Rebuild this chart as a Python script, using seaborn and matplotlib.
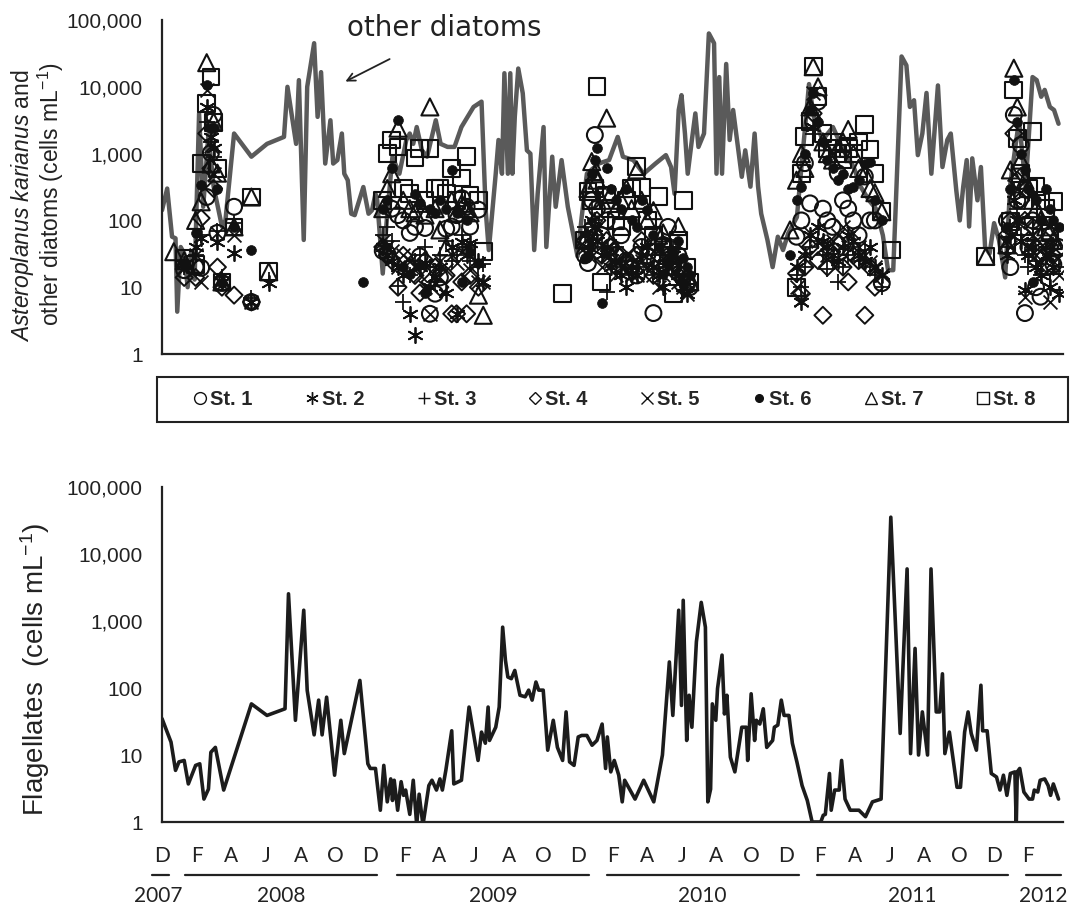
import numpy as np
import pandas as pd
import matplotlib
matplotlib.use("Agg")
import matplotlib.pyplot as plt
import seaborn as sns
from matplotlib.lines import Line2D
from matplotlib.patches import Rectangle
from matplotlib import transforms
from matplotlib.ticker import FixedLocator, FixedFormatter, NullLocator

# ---------------- data ----------------
# time unit: number of 2-month steps since 1 Dec 2007 (0 = Dec 2007, 26 = Apr 2012)
month_labels = ["D", "F", "A", "J", "A", "O", "D", "F", "A", "J", "A", "O", "D",
                "F", "A", "J", "A", "O", "D", "F", "A", "J", "A", "O", "D", "F", ""]
years = ["2007", "2008", "2009", "2010", "2011", "2012"]
stations = ["St. 1", "St. 2", "St. 3", "St. 4", "St. 5", "St. 6", "St. 7", "St. 8"]

# other diatoms (grey line, top panel)
diat_t = [0.00, 0.15, 0.29, 0.39, 0.44, 0.54, 0.64, 0.74, 0.84, 0.94, 1.07, 1.19, 1.34, 1.49, 1.73,
          1.83, 2.08, 2.58, 3.03, 3.52, 3.62, 3.87, 3.95, 4.09, 4.19, 4.39, 4.49, 4.59, 4.71, 4.86,
          4.94, 5.06, 5.19, 5.26, 5.36, 5.46, 5.56, 5.81, 5.96, 6.06, 6.16, 6.21, 6.37, 6.50, 6.65,
          6.85, 7.05, 7.15, 7.25, 7.35, 7.50, 7.65, 7.90, 8.04, 8.24, 8.44, 8.64, 8.99, 9.22, 9.34,
          9.43, 9.63, 9.71, 9.81, 9.88, 9.98, 10.05, 10.11, 10.18, 10.28, 10.41, 10.53, 10.63, 10.74,
          10.84, 11.01, 11.09, 11.26, 11.36, 11.53, 11.71, 11.99, 12.11, 12.26, 12.60, 12.90, 13.15,
          13.30, 13.60, 13.90, 14.24, 14.54, 14.69, 14.79, 14.91, 14.99, 15.09, 15.17, 15.29, 15.39,
          15.48, 15.64, 15.78, 15.93, 16.00, 16.08, 16.16, 16.28, 16.38, 16.48, 16.63, 16.73, 16.83,
          16.98, 17.10, 17.20, 17.29, 17.47, 17.62, 17.77, 17.92, 18.07, 18.32, 18.47, 18.67, 18.81,
          19.06, 19.36, 19.66, 19.96, 20.16, 20.40, 20.60, 20.80, 20.95, 21.10, 21.34, 21.48, 21.58,
          21.70, 21.81, 21.94, 22.06, 22.20, 22.39, 22.52, 22.66, 22.76, 22.92, 23.02, 23.12, 23.22,
          23.29, 23.38, 23.53, 23.63, 23.75, 23.88, 24.01, 24.15, 24.33, 24.48, 24.73, 24.92, 25.12,
          25.24, 25.37, 25.47, 25.62, 25.74, 25.87]
diat_v = [142, 300, 57, 54, 4.3, 40, 32, 10, 34, 13, 4000, 160, 2000, 320, 81,
          100, 2000, 900, 1400, 1780, 10000, 1400, 12600, 51, 10000, 45000, 3550, 16600, 710, 3160,
          710, 800, 2000, 500, 400, 126, 120, 316, 126, 142, 250, 200, 16, 126, 900,
          500, 1600, 2000, 1400, 2500, 1120, 900, 3160, 1400, 1260, 1260, 2500, 5000, 6000, 142,
          36, 500, 1600, 500, 16000, 500, 16000, 500, 3550, 18800, 8000, 1120, 1000, 36,
          250, 2500, 40, 900, 160, 800, 160, 29, 112, 500, 710, 800, 1780,
          900, 800, 500, 710, 950, 630, 250, 4500, 7500, 2000, 500, 1600, 4000,
          1260, 2000, 63000, 45000, 500, 14000, 500, 22000, 1600, 4500, 1120, 450, 1120,
          320, 2000, 320, 126, 51, 20, 57, 36, 64, 112, 800, 11000, 3550,
          1600, 2500, 1120, 630, 320, 200, 150, 60, 18, 18, 28500, 21000, 5000,
          6300, 950, 2000, 8100, 500, 10500, 630, 1600, 2000, 280, 100, 320, 800,
          81, 850, 200, 630, 40, 32, 91, 51, 14, 360, 3160, 320, 14000,
          12600, 7100, 9000, 5000, 4500, 2800]

# flagellates (bottom panel)
flag_t = [0.00, 0.26, 0.39, 0.49, 0.64, 0.76, 0.97, 1.09, 1.21, 1.34, 1.41, 1.54, 1.78, 2.58, 3.03,
          3.55, 3.65, 3.85, 4.09, 4.19, 4.39, 4.52, 4.62, 4.75, 4.98, 5.16, 5.26, 5.71, 5.94, 6.01,
          6.16, 6.30, 6.40, 6.50, 6.60, 6.65, 6.70, 6.80, 6.90, 6.97, 7.03, 7.15, 7.25, 7.35, 7.42,
          7.53, 7.70, 7.79, 7.92, 8.02, 8.09, 8.19, 8.36, 8.42, 8.64, 8.86, 9.12, 9.22, 9.33, 9.41,
          9.45, 9.63, 9.73, 9.83, 9.91, 9.98, 10.08, 10.18, 10.33, 10.48, 10.58, 10.68, 10.79, 10.87,
          11.00, 11.13, 11.29, 11.41, 11.56, 11.66, 11.76, 11.89, 12.01, 12.11, 12.26, 12.41, 12.55,
          12.70, 12.80, 12.85, 12.95, 13.05, 13.18, 13.28, 13.35, 13.65, 13.90, 14.19, 14.44, 14.64,
          14.74, 14.91, 14.99, 15.04, 15.14, 15.21, 15.29, 15.42, 15.56, 15.68, 15.75, 15.83, 15.88,
          15.98, 16.03, 16.16, 16.23, 16.30, 16.40, 16.53, 16.73, 16.86, 16.90, 17.00, 17.10, 17.15,
          17.25, 17.35, 17.45, 17.62, 17.67, 17.77, 17.87, 17.95, 18.09, 18.19, 18.32, 18.47, 18.62,
          18.76, 19.01, 19.08, 19.14, 19.26, 19.31, 19.41, 19.54, 19.61, 19.71, 19.86, 20.11, 20.30,
          20.50, 20.75, 21.03, 21.30, 21.50, 21.60, 21.73, 21.83, 21.94, 22.09, 22.19, 22.34, 22.44,
          22.52, 22.59, 22.72, 22.94, 23.04, 23.16, 23.26, 23.35, 23.50, 23.63, 23.68, 23.81, 23.93,
          24.08, 24.18, 24.28, 24.38, 24.48, 24.61, 24.65, 24.68, 24.75, 24.87, 25.02, 25.12, 25.17,
          25.27, 25.34, 25.47, 25.57, 25.64, 25.72, 25.87]
flag_v = [35, 15.6, 5.9, 7.9, 8.3, 3.7, 7, 7.4, 2.2, 3.1, 11, 13, 3, 58, 39,
          49, 2550, 33, 1450, 92, 20, 66, 20, 73, 5, 33, 10.5, 130, 7.4, 6.3,
          6.3, 1.5, 7, 2, 4.4, 2.1, 4.2, 1.5, 4, 2.5, 3, 1.3, 4.2, 0.9, 2.6,
          0.9, 3.5, 4.2, 3, 4.4, 3, 5.9, 23, 3.7, 4.2, 52, 8.3, 22, 15, 52,
          16.5, 26, 52, 810, 260, 146, 138, 183, 78, 74, 93, 66, 123, 93,
          93, 11.8, 33, 13, 8.3, 44, 7.9, 7, 18.6, 19.6, 19.6, 14, 16.5,
          29, 6.3, 18.6, 5.6, 8.3, 5, 2, 4.2, 2.2, 4.2, 2, 10, 245,
          39, 1450, 55, 2040, 16.5, 78, 26, 490, 1900, 810, 2, 3.1, 58,
          33, 98, 310, 41, 78, 9.3, 5.6, 26, 26, 8.3, 82, 16.5, 33,
          29, 49, 13, 16.5, 26, 28, 66, 39, 39, 15, 7.9, 3.5, 2.1,
          1, 1, 1.26, 1.3, 5.3, 1.5, 3, 3, 8.3, 2.2, 1.5, 1.5, 1.2,
          2, 2.2, 35500, 21, 6000, 10.5, 390, 10, 44, 10, 6000, 44, 44,
          163, 10.5, 22, 3.3, 3.3, 22, 44, 21, 11.8, 110, 23, 23, 5.3,
          4.7, 3, 5, 2.5, 5.3, 5.6, 0.9, 5.6, 6.3, 2.8, 2.2, 2.2, 3,
          2.8, 4.2, 4.4, 3.5, 2.5, 3.7, 2.2]

# Asteroplanus karianus at St. 1-8, one table per winter bloom (rows = stations, None = not detected)
dates_0708 = [0.34, 0.64, 0.97, 1.13, 1.29, 1.41, 1.49, 1.60, 1.73, 2.08, 2.58, 3.08]
cells_0708 = [
    [None, 18, 20, 19.5, 224, 1020, 3800, 65, 11.6, 160, 6, None],
    [None, 22, 40, 54, 5000, 1800, 1200, 48, 12, 32, 6, 11.5],
    [None, 20, 30, 60, 3000, 1500, 900, 70, 14, 90, 7, 13],
    [None, 14, 14, 108, 2000, 600, 300, 20, 10, 7.6, 6, None],
    [None, 20, 30, 12, 9000, 1300, 500, 65, 11, 60, 6, None],
    [None, 22, 65, 340, 10700, 2400, 2400, 300, 11.6, 80, 36, None],
    [34, 25, 100, 190, 23000, 700, 3000, 510, 12, 80, 224, 17],
    [None, 27, 22, 720, 5700, 14000, 2900, 600, 12, 80, 224, 17]]

dates_0809 = [5.80, 6.37, 6.50, 6.63, 6.81, 6.96, 7.15, 7.30, 7.44, 7.59, 7.73, 7.88, 8.02, 8.20,
              8.36, 8.50, 8.65, 8.79, 8.89, 9.13, 9.27]
cells_0809 = [
    [None, 35, 32, 150, 120, 100, 65, 80, 29, 77, 4, 8, 14, 75, 81, 120, 215, 160, 81, 145, None],
    [None, 40, 30, 25, 20, 15, 4, 1.9, 20, 23, 10, 14, 20, 8.2, 40, 4, 48, 30, 46, 25, 12],
    [None, 60, 80, 50, 10.5, 6, 15, 25, 30, 40, 20, 12, 30, 50, 25, 30, 60, 40, 25, 20, 22],
    [None, 40, 30, 25, 10, 30, 20, 15, 8.2, 25, 12, 20, 10, 15, 4, 4, 12, 4, 15, 10, None],
    [None, 50, 40, 35, 20, 30, 25, 20, 15, 10, 4, 20, 25, 18, 30, 23, 35, 40, 18, 12, 12],
    [12, 150, 200, 600, 3200, 20, 16, 250, 180, 8.2, 150, 130, 200, 150, 560, 130, 12, 100, 34, 23, None],
    [None, 150, 300, 500, 2400, 200, 150, 130, 180, 120, 5000, 150, 72, 40, 200, 130, 180, 150, 130, 7.6, 3.8],
    [None, 200, 1000, 1600, 1260, 300, 250, 860, 1200, 200, 1200, 300, 300, 250, 600, 200, 430, 900, 240, 200, 34]]

dates_0910 = [11.56, 12.20, 12.29, 12.40, 12.49, 12.55, 12.69, 12.83, 12.95, 13.10, 13.25, 13.40,
              13.55, 13.70, 13.84, 14.00, 14.18, 14.33, 14.46, 14.60, 14.75, 14.90, 15.04, 15.15, 15.23]
cells_0910 = [
    [None, 30, 23, 200, 1900, 150, 60, 100, 40, 30, 60, 25, 20, 15, 40, 30, 4.1, 25, 43, 80, 20, 30, 15, 12, 10],
    [None, 60, 40, 100, 80, 50, 30, 40, 20, 25, 15, 10, 20, 15, 30, 40, 20, 15, 10, 20, 30, 15, 10, 8, None],
    [None, 80, 60, 150, 100, 60, 40, 8.5, 30, 40, 20, 25, 15, 20, 40, 30, 15, 20, 25, 30, 40, 20, 12, 10, None],
    [None, 50, 40, 80, 60, 100, 30, 50, 40, 20, 30, 25, 20, 30, 50, 25, 15, 30, 20, 30, 25, 15, 10, None, None],
    [None, 40, 30, 60, 80, 50, 20, 30, 25, 15, 20, 30, 15, 15, 25, 20, 15, 10, 15, 20, 30, 12, 10, 8, None],
    [None, 27, 30, 500, 800, 1200, 5.8, 600, 300, 200, 150, 300, 100, 80, 200, 145, 60, 40, 16, 23, 32, 50, 27, 20, 15],
    [None, 51, 300, 760, 500, 400, 200, 3400, 250, 150, 200, 300, 150, 570, 200, 100, 140, 60, 65, 40, 30, 81, 20, 15, 12],
    [8, 51, 270, 200, 300, 10000, 12, 240, 150, 100, 80, 200, 300, 640, 310, 100, 60, 230, 40, 30, 8, 50, 200, 20, 12]]

dates_1011 = [18.12, 18.31, 18.45, 18.55, 18.70, 18.79, 18.93, 19.07, 19.20, 19.35, 19.50, 19.65,
              19.80, 19.95, 20.10, 20.28, 20.43, 20.57, 20.77, 21.05]
cells_1011 = [
    [None, 57, 100, 720, 180, 3000, 6000, 150, 100, 80, 510, 200, 150, 100, 60, 455, 100, 100, 11.5, None],
    [None, 20, 6, 30, 60, 2500, 80, 50, 40, 30, 25, 40, 60, 50, 30, 25, 40, 20, 15, None],
    [None, 15, 10, 20, 40, 2000, 50, 30, 19, 25, 12, 20, 30, 40, 25, 36, 20, 15, 10, None],
    [None, 16, 8, 20, 40, 4000, 25, 3.8, 20, 30, 48, 20, 12, 30, 25, 3.8, 20, 10, None, None],
    [None, 10, 6.5, 35, 65, 8000, 50, 40, 30, 50, 60, 80, 40, 65, 40, 30, 24, 20, 15, None],
    [30, 200, 320, 1000, 4500, 8000, 3000, 1500, 800, 600, 400, 500, 300, 320, 400, 700, 760, 200, 100, None],
    [72, 400, 1000, 600, 5000, 20000, 10000, 1500, 1000, 800, 1200, 1500, 2300, 1000, 600, 500, 300, 260, 135, None],
    [None, 10, 510, 1800, 3000, 20000, 7100, 2000, 1200, 1500, 1000, 800, 1200, 1000, 1500, 2700, 1140, 500, 135, 36]]

dates_1112 = [23.77, 24.38, 24.48, 24.58, 24.68, 24.78, 24.90, 25.00, 25.12, 25.22, 25.35, 25.50,
              25.62, 25.72, 25.87]
cells_1112 = [
    [None, 100, 20, 3800, 200, 1350, 4.1, 40, 100, 10, 7.2, 20, 60, 22, 40],
    [None, 30, 60, 200, 100, 50, 9, 30, 40, 20, 15, 30, 10, 20, 8],
    [None, 40, 80, 300, 150, 60, 30, 20, 50, 25, 15, 40, 30, 43, 20],
    [None, 60, 100, 2000, 400, 200, 100, 50, 80, 40, 30, 50, 40, 30, None],
    [None, 50, 40, 500, 300, 100, 7.2, 40, 60, 30, 20, 30, 6, 25, 15],
    [None, 80, 300, 12700, 3000, 1000, 570, 300, 12, 200, 100, 300, 150, 100, 80],
    [29, 43, 570, 19000, 5000, 800, 400, 300, 200, 150, 100, 80, 70, 50, 40],
    [29, 43, 96, 9000, 1700, 500, 81, 300, 2150, 320, 200, 150, 65, 190, 12]]

# ---------------- build long table ----------------
rows = []
for dates, table in [(dates_0708, cells_0708), (dates_0809, cells_0809), (dates_0910, cells_0910),
                     (dates_1011, cells_1011), (dates_1112, cells_1112)]:
    for st, vals in zip(stations, table):
        assert len(vals) == len(dates)
        for d, v in zip(dates, vals):
            if v is not None:
                rows.append((d, v, st))
ak = pd.DataFrame(rows, columns=["t", "cells", "station"])
diat = pd.DataFrame({"t": diat_t, "cells": diat_v})
flag = pd.DataFrame({"t": flag_t, "cells": flag_v})

# ---------------- style ----------------
sns.set_style("white")
plt.rcParams["font.family"] = ["Liberation Sans", "DejaVu Sans"]
plt.rcParams["mathtext.fontset"] = "custom"
plt.rcParams["mathtext.rm"] = "Liberation Sans"
plt.rcParams["mathtext.it"] = "Liberation Sans:italic"
plt.rcParams["mathtext.bf"] = "Liberation Sans:bold"

INK = "#111111"
fig = plt.figure(figsize=(10.7, 9.07), dpi=100)
ax1 = fig.add_axes([0.1514, 0.6097, 0.8421, 0.3682])
ax2 = fig.add_axes([0.1514, 0.0937, 0.8421, 0.3693])

# top panel: other diatoms line + station markers
sns.lineplot(data=diat, x="t", y="cells", ax=ax1, color="#5a5a5a", linewidth=3.2,
             estimator=None, sort=False, zorder=1)

specs = {
    "St. 1": dict(marker="o", s=130, facecolor="none", edgecolor=INK, linewidth=1.5),
    "St. 2": dict(marker=(6, 2, 0), s=120, color=INK, linewidth=1.3),
    "St. 3": dict(marker="+", s=130, color=INK, linewidth=1.3),
    "St. 4": dict(marker="D", s=75, facecolor="none", edgecolor=INK, linewidth=1.4),
    "St. 5": dict(marker="x", s=100, color=INK, linewidth=1.3),
    "St. 6": dict(marker="o", s=50, color=INK, edgecolor=INK, linewidth=0.5),
    "St. 7": dict(marker="^", s=150, facecolor="none", edgecolor=INK, linewidth=1.5),
    "St. 8": dict(marker="s", s=145, facecolor="none", edgecolor=INK, linewidth=1.5),
}
for st in stations:
    sub = ak[ak["station"] == st]
    sns.scatterplot(data=sub, x="t", y="cells", ax=ax1, legend=False, zorder=3, **specs[st])

# bottom panel: flagellates
sns.lineplot(data=flag, x="t", y="cells", ax=ax2, color="#1c1c1c", linewidth=2.6,
             estimator=None, sort=False)

ylabels = ["1", "10", "100", "1,000", "10,000", "100,000"]
for ax in (ax1, ax2):
    ax.set_yscale("log")
    ax.set_ylim(1, 1e5)
    ax.set_xlim(0, 26)
    ax.yaxis.set_major_locator(FixedLocator([1, 10, 100, 1e3, 1e4, 1e5]))
    ax.yaxis.set_major_formatter(FixedFormatter(ylabels))
    ax.yaxis.set_minor_locator(NullLocator())
    ax.set_xticks(range(27))
    ax.xaxis.set_minor_locator(NullLocator())
    for side in ("top", "right"):
        ax.spines[side].set_visible(False)
    for side in ("left", "bottom"):
        ax.spines[side].set_linewidth(1.6)
        ax.spines[side].set_color("#222222")
    ax.tick_params(axis="y", direction="out", length=6, width=1.5, labelsize=15, pad=8,
                   colors="#222222")
    ax.tick_params(axis="x", direction="in", length=6, width=1.3, colors="#222222")
    ax.set_xlabel("")
    ax.set_ylabel("")
    ax.set_facecolor("none")

ax1.set_xticklabels([])
ax2.set_xticklabels(month_labels, fontfamily="Lato", fontsize=15)
ax2.tick_params(axis="x", pad=17)

# year underlines and labels
trans = transforms.blended_transform_factory(ax2.transData, fig.transFigure)
year_spans = [(-0.29, 0.20), (0.66, 6.20), (6.78, 12.32), (12.84, 18.38), (18.90, 24.41), (24.93, 25.94)]
year_centres = [-0.12, 3.43, 9.55, 15.6, 21.65, 25.43]
for (a, b), c, yr in zip(year_spans, year_centres, years):
    ax2.add_line(Line2D([a, b], [0.0353, 0.0353], transform=trans, color="#222222",
                        linewidth=1.6, clip_on=False))
    ax2.text(c, 0.0121, yr, transform=trans, ha="center", va="center",
             fontfamily="Lato", fontsize=15, color="#222222")

# y labels
fig.text(23 / 1070, 1 - 206 / 907, r"$\mathit{Asteroplanus\ karianus}$ and", rotation=90,
         ha="center", va="center", fontsize=16.5, color="#222222")
fig.text(51 / 1070, 1 - 194 / 907, r"other diatoms (cells mL$^{-1}$)", rotation=90,
         ha="center", va="center", fontsize=16.5, color="#222222")
fig.text(35 / 1070, 1 - 669 / 907, r"Flagellates  (cells mL$^{-1}$)", rotation=90,
         ha="center", va="center", fontsize=20, color="#222222")

# annotation
ax1.text(8.14, 76500, "other diatoms", ha="center", va="center", fontsize=20,
         fontfamily="DejaVu Sans", color="#222222", clip_on=False)
ax1.annotate("", xy=(5.22, 11500), xytext=(6.64, 27200),
             arrowprops=dict(arrowstyle="->", color="#222222", lw=1.3, mutation_scale=14),
             annotation_clip=False)

# legend box
handles = []
for st in stations:
    sp = specs[st]
    if sp["marker"] in ("+", "x", (6, 2, 0)):
        h = Line2D([], [], ls="none", marker=sp["marker"], color=INK, ms=9, mew=1.0)
    elif st == "St. 6":
        h = Line2D([], [], ls="none", marker="o", color=INK, ms=5.5)
    else:
        ms = {"o": 8.5, "D": 6.5, "^": 9, "s": 9}[sp["marker"]]
        h = Line2D([], [], ls="none", marker=sp["marker"], mfc="none", mec=INK, ms=ms, mew=1.0)
    handles.append(h)

fig.legend(handles, stations, loc="center", bbox_to_anchor=(0.1804, 0.535, 0.787, 0.05),
           mode="expand", ncol=8, frameon=False, handlelength=0.7, handletextpad=0.15,
           borderaxespad=0, borderpad=0,
           prop=dict(family="Liberation Sans", weight="bold", size=14.5))
fig.add_artist(Rectangle((157 / 1070, 1 - 422 / 907), (1068 - 157) / 1070, 45 / 907,
                         transform=fig.transFigure, fill=False, edgecolor="#222222", linewidth=1.5))

fig.savefig("out.png", dpi=100, facecolor="white")
